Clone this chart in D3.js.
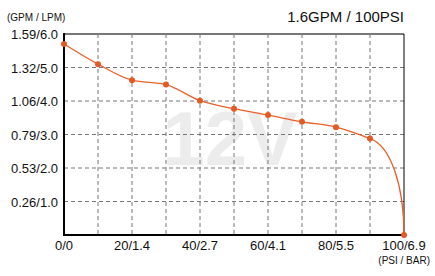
<!DOCTYPE html>
<html>
<head>
<meta charset="UTF-8">
<title>12V pump curve</title>
<script src="https://d3js.org/d3.v7.min.js"></script>
<style>
  body { margin: 0; background: #fff; }
  text { font-family: "Liberation Sans", Arial, sans-serif; }
</style>
</head>
<body>
<div id="chart"></div>
<script>
// data (pressure in PSI, flow in LPM)
var psi = [0, 10, 20, 30, 40, 50, 60, 70, 80, 90, 100];
var lpm = [5.70, 5.10, 4.62, 4.49, 4.01, 3.77, 3.58, 3.38, 3.22, 2.88, 0];
var xTicks = [0, 20, 40, 60, 80, 100];
var xTickLabels = ["0/0", "20/1.4", "40/2.7", "60/4.1", "80/5.5", "100/6.9"];
var yTicks = [1, 2, 3, 4, 5, 6];
var yTickLabels = ["0.26/1.0", "0.53/2.0", "0.79/3.0", "1.06/4.0", "1.32/5.0", "1.59/6.0"];
var title = "1.6GPM / 100PSI";

var width = 435, height = 276;
var margin = {top: 34, right: 31, bottom: 41, left: 64};
var w = width - margin.left - margin.right,
    h = height - margin.top - margin.bottom;

var svg = d3.select("#chart").append("svg")
    .attr("width", width)
    .attr("height", height);

var x = d3.scaleLinear().domain([0, 100]).range([margin.left, margin.left + w]);
var y = d3.scaleLinear().domain([0, 6]).range([margin.top + h, margin.top]);

// watermark
svg.append("text")
    .attr("x", 230).attr("y", 165)
    .attr("text-anchor", "middle")
    .attr("font-size", 76)
    .attr("font-weight", "bold")
    .attr("fill", "#ececec")
    .text("12V");

// grid
svg.append("g").selectAll("line")
    .data(d3.range(10, 100, 10))
    .enter().append("line")
    .attr("x1", function(d) { return x(d); })
    .attr("x2", function(d) { return x(d); })
    .attr("y1", y(6)).attr("y2", y(0))
    .attr("stroke", "#777").attr("stroke-dasharray", "4,3");

svg.append("g").selectAll("line")
    .data([1, 2, 3, 4, 5])
    .enter().append("line")
    .attr("x1", x(0)).attr("x2", x(100))
    .attr("y1", function(d) { return y(d); })
    .attr("y2", function(d) { return y(d); })
    .attr("stroke", "#777").attr("stroke-dasharray", "4,3");

// frame
svg.append("line").attr("x1", x(0)).attr("x2", x(100)).attr("y1", y(6)).attr("y2", y(6))
    .attr("stroke", "#777").attr("stroke-width", 2);
svg.append("line").attr("x1", x(100)).attr("x2", x(100)).attr("y1", y(6)).attr("y2", y(0))
    .attr("stroke", "#000").attr("stroke-width", 1);
svg.append("line").attr("x1", x(0)).attr("x2", x(0)).attr("y1", y(6) - 1).attr("y2", y(0) + 1)
    .attr("stroke", "#000").attr("stroke-width", 2);
svg.append("line").attr("x1", x(0)).attr("x2", x(100) + 1).attr("y1", y(0)).attr("y2", y(0))
    .attr("stroke", "#000").attr("stroke-width", 2);

// axis labels
svg.append("g").selectAll("text")
    .data(yTicks)
    .enter().append("text")
    .attr("x", 58)
    .attr("y", function(d) { return y(d) + 5; })
    .attr("text-anchor", "end")
    .attr("font-size", 13)
    .attr("fill", "#111")
    .text(function(d, i) { return yTickLabels[i]; });

svg.append("g").selectAll("text")
    .data(xTicks)
    .enter().append("text")
    .attr("x", function(d) { return x(d); })
    .attr("y", 250)
    .attr("text-anchor", "middle")
    .attr("font-size", 13)
    .attr("fill", "#111")
    .text(function(d, i) { return xTickLabels[i]; });

svg.append("text").attr("x", 7).attr("y", 21)
    .attr("font-size", 10).attr("fill", "#111").text("(GPM / LPM)");
svg.append("text").attr("x", 430).attr("y", 264)
    .attr("text-anchor", "end")
    .attr("font-size", 10).attr("fill", "#111").text("(PSI / BAR)");
svg.append("text").attr("x", 404).attr("y", 22)
    .attr("text-anchor", "end")
    .attr("font-size", 15).attr("fill", "#111").text(title);

// curve: smooth through the points, last segment drops to vertical at cut-off
var pts = psi.map(function(p, i) { return [p, lpm[i]]; });
var line = d3.line()
    .x(function(d) { return x(d[0]); })
    .y(function(d) { return y(d[1]); })
    .curve(d3.curveMonotoneX);

var n = pts.length;
var a = pts[n - 3], b = pts[n - 2], c = pts[n - 1];
var slope = (b[1] - a[1]) / (b[0] - a[0]);
var dx = (c[0] - b[0]) * 0.6;
var d = line(pts.slice(0, n - 1)) +
    "C" + x(b[0] + dx) + "," + y(b[1] + slope * dx) +
    "," + x(c[0]) + "," + y(c[1] + b[1] * 0.52) +
    "," + x(c[0]) + "," + y(c[1]);

svg.append("path")
    .attr("d", d)
    .attr("fill", "none")
    .attr("stroke", "#e8602c")
    .attr("stroke-width", 1.3);

svg.append("g").selectAll("circle")
    .data(pts)
    .enter().append("circle")
    .attr("cx", function(d) { return x(d[0]); })
    .attr("cy", function(d) { return y(d[1]); })
    .attr("r", 3)
    .attr("fill", "#e25a26");
</script>
</body>
</html>
